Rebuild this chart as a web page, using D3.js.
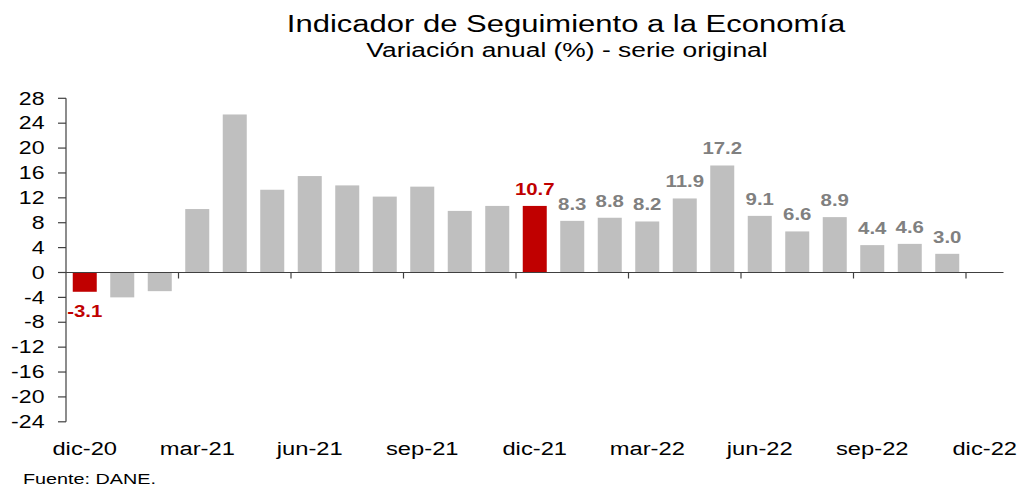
<!DOCTYPE html>
<html>
<head>
<meta charset="utf-8">
<script src="https://cdn.jsdelivr.net/npm/d3@7"></script>
<style>
html, body { margin: 0; padding: 0; background: #ffffff; }
svg { display: block; }
text { font-family: "Liberation Sans", Arial, sans-serif; }
</style>
</head>
<body>
<svg id="chart" width="1021" height="487"></svg>
<script>
// ---- data ----
const categories = ["dic-20","ene-21","feb-21","mar-21","abr-21","may-21","jun-21","jul-21","ago-21","sep-21","oct-21","nov-21",
  "dic-21","ene-22","feb-22","mar-22","abr-22","may-22","jun-22","jul-22","ago-22","sep-22","oct-22","nov-22","dic-22"];
const values = [-3.1, -4.0, -3.0, 10.2, 25.4, 13.3, 15.5, 14.0, 12.2, 13.8, 9.9, 10.7,
  10.7, 8.3, 8.8, 8.2, 11.9, 17.2, 9.1, 6.6, 8.9, 4.4, 4.6, 3.0, null];
const highlighted = ["dic-20", "dic-21"];
const labelled = ["dic-20","dic-21","ene-22","feb-22","mar-22","abr-22","may-22","jun-22","jul-22","ago-22","sep-22","oct-22","nov-22"];
const xTickLabels = ["dic-20","mar-21","jun-21","sep-21","dic-21","mar-22","jun-22","sep-22","dic-22"];
const yTicks = [28,24,20,16,12,8,4,0,-4,-8,-12,-16,-20,-24];
const title = "Indicador de Seguimiento a la Economía";
const subtitle = "Variación anual (%) - serie original";
const source = "Fuente: DANE.";

// ---- layout ----
const sx = 1.32;
const plotLeft = 66, plotRight = 1003.5, plotTop = 98.3, plotBottom = 421.8;
const svg = d3.select("#chart");

const x = d3.scaleBand().domain(categories).range([plotLeft, plotRight]).paddingInner(0.36).paddingOuter(0.18);
const y = d3.scaleLinear().domain([-24, 28]).range([plotBottom, plotTop]);
const gapHalf = x.step() * 0.36 / 2;

function txt(parent, px, py, str, size, anchor, sxx) {
  return parent.append("text")
    .attr("transform", `translate(${px},${py}) scale(${sxx || sx},1)`)
    .attr("text-anchor", anchor)
    .attr("font-size", size)
    .text(str);
}

// titles
txt(svg, 566, 32, title, 23.5, "middle").attr("fill", "#000");
txt(svg, 567, 57, subtitle, 20, "middle").attr("fill", "#000");
txt(svg, 23, 484, source, 15, "start").attr("fill", "#000");

// bars
const data = categories.map((c, i) => ({ c, v: values[i] })).filter(d => d.v !== null);
svg.append("g").selectAll("rect").data(data).join("rect")
  .attr("x", d => x(d.c))
  .attr("width", x.bandwidth())
  .attr("y", d => y(Math.max(0, d.v)))
  .attr("height", d => Math.abs(y(d.v) - y(0)))
  .attr("fill", d => highlighted.includes(d.c) ? "#C00000" : "#BFBFBF");

// y axis
const axisColor = "#404040";
svg.append("line").attr("x1", plotLeft).attr("x2", plotLeft).attr("y1", y(28)).attr("y2", y(-24))
  .attr("stroke", axisColor).attr("stroke-width", 1.2);
const yg = svg.append("g");
yTicks.forEach(t => {
  yg.append("line").attr("x1", plotLeft - 8).attr("x2", plotLeft).attr("y1", y(t)).attr("y2", y(t))
    .attr("stroke", axisColor).attr("stroke-width", 1.2);
  txt(yg, 44.5, y(t) + 6.2, String(t), 17.5, "end").attr("fill", "#000");
});

// x axis (zero line)
svg.append("line").attr("x1", plotLeft).attr("x2", plotRight).attr("y1", y(0)).attr("y2", y(0))
  .attr("stroke", axisColor).attr("stroke-width", 1.2);
const xg = svg.append("g");
categories.forEach((c, i) => {
  if (i > 0 && i % 3 === 0) {
    const bx = x(c) - gapHalf;
    xg.append("line").attr("x1", bx).attr("x2", bx).attr("y1", y(0)).attr("y2", y(0) + 6)
      .attr("stroke", axisColor).attr("stroke-width", 1.2);
  }
});
xTickLabels.forEach(c => {
  txt(xg, x(c) + x.bandwidth() / 2, 455, c, 18, "middle").attr("fill", "#000");
});

// data labels
const lg = svg.append("g");
data.filter(d => labelled.includes(d.c)).forEach(d => {
  const cx = x(d.c) + x.bandwidth() / 2;
  const py = d.v >= 0 ? y(d.v) - 11 : y(d.v) + 25;
  txt(lg, cx, py, d.v.toFixed(1), 17, "middle", 1.2)
    .attr("font-weight", "bold")
    .attr("fill", highlighted.includes(d.c) ? "#C00000" : "#808080");
});
</script>
</body>
</html>
